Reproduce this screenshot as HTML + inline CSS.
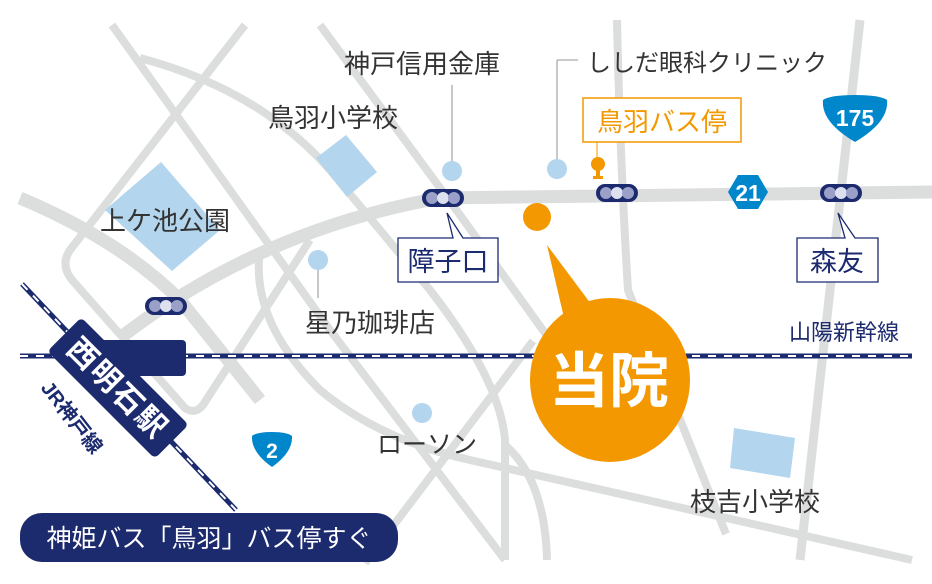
<!DOCTYPE html>
<html><head><meta charset="utf-8"><style>
html,body{margin:0;padding:0;background:#fff;}
svg{display:block;font-family:"Liberation Sans","Noto Sans CJK JP",sans-serif;}
</style></head><body>
<svg width="932" height="584" viewBox="0 0 932 584" xmlns="http://www.w3.org/2000/svg">
<g fill="none" stroke="#dcdddd" stroke-linecap="butt" stroke-linejoin="round">
 <path d="M20,198 Q120,240 180,300 L260,400" stroke-width="13"/>
 <path d="M120,338 Q260,230 440,198 L932,192" stroke-width="13"/>
 <path d="M112,25 L330,330 L505,560" stroke-width="8"/>
 <path d="M245,25 L70,250 Q60,265 72,280 L185,408 Q195,415 203,405 L310,240" stroke-width="8"/>
 <path d="M140,58 Q260,90 330,170 L430,290 Q500,380 505,440 L505,560" stroke-width="8"/>
 <path d="M320,25 L460,215 L550,340" stroke-width="8"/>
 <path d="M617,20 Q620,160 628,290 L726,534" stroke-width="8"/>
 <path d="M860,20 L800,560" stroke-width="9"/>
 <path d="M260,250 Q250,320 320,390 Q380,440 470,460 L912,560" stroke-width="8"/>
 <path d="M533,341 L365,563" stroke-width="8"/>
 <path d="M505,445 Q545,480 547,560" stroke-width="8"/>
</g>
<g fill="#b3d5ee">
 <polygon points="161,162 220,230 172,271 105,210"/>
 <polygon points="346,135 377,172 347,197 316,158"/>
 <polygon points="734,428 795,438 790,478 730,468"/>
</g>
<line x1="20" y1="356" x2="912" y2="356" stroke="#1c2a6e" stroke-width="5"/>
<line x1="20" y1="356" x2="912" y2="356" stroke="#fff" stroke-width="2" stroke-dasharray="8 8"/>
<line x1="22" y1="284" x2="236" y2="510" stroke="#1c2a6e" stroke-width="5"/>
<line x1="22" y1="284" x2="236" y2="510" stroke="#fff" stroke-width="2" stroke-dasharray="8 8"/>
<rect x="100" y="340" width="86" height="36" rx="4" fill="#1c2a6e"/>
<g transform="translate(118,388) rotate(45)">
 <rect x="-76" y="-24" width="152" height="48" rx="5" fill="#1c2a6e"/>
 <text x="0" y="11" text-anchor="middle" font-size="30" font-weight="bold" fill="#fff" letter-spacing="2">西明石駅</text>
</g>
<text transform="translate(40,388) rotate(52)" font-size="20" fill="#1c2a6e" font-weight="bold">JR神戸線</text>
<rect x="20" y="513" width="378" height="49" rx="22" fill="#1c2a6e"/>
<text x="209" y="547" text-anchor="middle" font-size="25" fill="#fff">神姫バス「鳥羽」バス停すぐ</text>
<g stroke="#aaa" stroke-width="1.3"><line x1="452" y1="85" x2="452" y2="170"/><line x1="557" y1="60" x2="557" y2="168"/><line x1="557" y1="60" x2="578" y2="60"/><line x1="318" y1="260" x2="318" y2="298"/></g>
<g fill="#b3d5ee"><circle cx="452" cy="171" r="10"/><circle cx="557" cy="169" r="10"/><circle cx="318" cy="260" r="10"/><circle cx="422" cy="413" r="10"/></g>
<g font-size="26" fill="#333">
 <text x="422" y="73" text-anchor="middle">神戸信用金庫</text>
 <text x="587" y="71" font-size="24">ししだ眼科クリニック</text>
 <text x="268" y="127">鳥羽小学校</text>
 <text x="100" y="230">上ケ池公園</text>
 <text x="305" y="332">星乃珈琲店</text>
 <text x="377" y="453" font-size="25">ローソン</text>
 <text x="690" y="511">枝吉小学校</text>
</g>
<text x="789" y="340" font-size="22" fill="#1c2a6e">山陽新幹線</text>
<rect x="583" y="98" width="158" height="44" fill="#fff" stroke="#f39800" stroke-width="1.5"/>
<text x="662" y="131" text-anchor="middle" font-size="26" fill="#f39800">鳥羽バス停</text>
<line x1="597" y1="142" x2="597" y2="160" stroke="#f39800" stroke-width="1"/>
<circle cx="598" cy="164" r="7" fill="#f39800"/>
<rect x="596" y="166" width="4" height="12" fill="#f39800"/><rect x="593" y="176" width="10" height="3" fill="#f39800"/>
<g>
<g transform="translate(443,198)"><rect x="-21" y="-9" width="42" height="18" rx="9" fill="#1c2a6e"/><circle cx="-11" r="6" fill="#9aa0c8"/><circle cx="0" r="6" fill="#dde0ef"/><circle cx="11" r="6" fill="#9aa0c8"/></g>
<g transform="translate(617,193)"><rect x="-21" y="-9" width="42" height="18" rx="9" fill="#1c2a6e"/><circle cx="-11" r="6" fill="#9aa0c8"/><circle cx="0" r="6" fill="#dde0ef"/><circle cx="11" r="6" fill="#9aa0c8"/></g>
<g transform="translate(841,193)"><rect x="-21" y="-9" width="42" height="18" rx="9" fill="#1c2a6e"/><circle cx="-11" r="6" fill="#9aa0c8"/><circle cx="0" r="6" fill="#dde0ef"/><circle cx="11" r="6" fill="#9aa0c8"/></g>
<g transform="translate(166,306)"><rect x="-21" y="-9" width="42" height="18" rx="9" fill="#1c2a6e"/><circle cx="-11" r="6" fill="#9aa0c8"/><circle cx="0" r="6" fill="#dde0ef"/><circle cx="11" r="6" fill="#9aa0c8"/></g>
</g>
<path d="M398,238 H453 L447,213 L463,238 H498 V282 H398 Z" fill="#fff" stroke="#1c2a6e" stroke-width="1.3"/>
<text x="448" y="271" text-anchor="middle" font-size="27" fill="#1c2a6e">障子口</text>
<path d="M797,238 H845 L838,213 L855,238 H878 V282 H797 Z" fill="#fff" stroke="#1c2a6e" stroke-width="1.3"/>
<text x="837" y="271" text-anchor="middle" font-size="27" fill="#1c2a6e">森友</text>
<polygon points="728,192 738,175 758,175 768,192 758,209 738,209" fill="#0086cb"/>
<text x="748" y="201" text-anchor="middle" font-size="23" font-weight="bold" fill="#fff">21</text>
<path d="M823,100 Q830,95 855,95 Q880,95 887,100 Q889,122 855,142 Q821,122 823,100 Z" fill="#0086cb"/>
<text x="855" y="126" text-anchor="middle" font-size="23" font-weight="bold" fill="#fff">175</text>
<path d="M252,436 Q257,432 272,432 Q287,432 292,436 Q293,452 272,467 Q251,452 252,436 Z" fill="#0086cb"/>
<text x="272" y="458" text-anchor="middle" font-size="21" font-weight="bold" fill="#fff">2</text>
<circle cx="537" cy="217" r="14" fill="#f39800"/>
<path d="M547,245 L597,312 L565,322 Z" fill="#f39800"/>
<ellipse cx="610" cy="380" rx="80" ry="82" fill="#f39800"/>
<text x="609" y="402" text-anchor="middle" font-size="60" font-weight="bold" fill="#fff">当院</text>
</svg>
</body></html>
